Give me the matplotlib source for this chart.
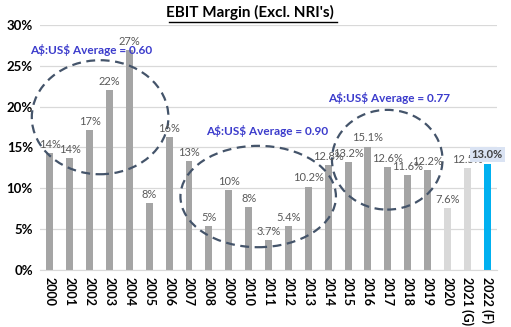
import matplotlib.pyplot as plt
from matplotlib.patches import Ellipse

years = ['2000', '2001', '2002', '2003', '2004', '2005', '2006', '2007', '2008',
         '2009', '2010', '2011', '2012', '2013', '2014', '2015', '2016', '2017',
         '2018', '2019', '2020', '2021 (G)', '2022 (F)']
margin = [14.3, 13.7, 17.1, 22.0, 26.9, 8.2, 16.3, 13.3, 5.4, 9.8, 7.7, 3.7, 5.4,
          10.2, 12.8, 13.2, 15.1, 12.6, 11.6, 12.2, 7.6, 12.5, 13.0]
labels = ['14%', '14%', '17%', '22%', '27%', '8%', '16%', '13%', '5%', '10%', '8%',
          '3.7%', '5.4%', '10.2%', '12.8%', '13.2%', '15.1%', '12.6%', '11.6%',
          '12.2%', '7.6%', '12.5%', '13.0%']
fx_notes = [r'A\$:US\$ Average = 0.60', r'A\$:US\$ Average = 0.90',
            r'A\$:US\$ Average = 0.77']

colors = ['#a5a5a5'] * 20 + ['#d9d9d9', '#d9d9d9', '#00b0f0']

plt.rcParams['font.family'] = ['Lato', 'DejaVu Sans']

fig = plt.figure(figsize=(5.11, 3.27), dpi=100)
ax = fig.add_axes([0.078, 0.174, 0.895, 0.75])

x = list(range(len(years)))
ax.bar(x, margin, width=0.35, color=colors, zorder=2)

for i, v in enumerate(margin):
    if i == len(margin) - 1:
        ax.text(i, v + 0.5, labels[i], ha='center', va='bottom', fontsize=8,
                color='#404040', fontweight='bold',
                bbox=dict(facecolor='#dae3f3', edgecolor='none', pad=1.5), zorder=4)
    else:
        ax.text(i, v + 0.4, labels[i], ha='center', va='bottom', fontsize=8,
                color='#595959', zorder=4)

ax.set_xlim(-0.5, 22.5)
ax.set_ylim(0, 30)
ax.set_yticks([0, 5, 10, 15, 20, 25, 30])
ax.set_yticklabels(['0%', '5%', '10%', '15%', '20%', '25%', '30%'],
                   fontsize=9.5, fontweight='bold')
ax.set_xticks(x)
ax.set_xticklabels(years, rotation=270, fontsize=9, fontweight='bold')
ax.tick_params(length=0, pad=5)
ax.grid(axis='y', color='#d9d9d9', linewidth=0.9, zorder=0)
for s in ['left', 'right', 'top']:
    ax.spines[s].set_visible(False)
ax.spines['bottom'].set_color('#d9d9d9')

# dashed rings round the exchange-rate periods
rings = [(2.53, 18.7, 6.87, 13.95), (10.48, 9.0, 7.82, 12.4), (16.97, 13.5, 5.56, 12.2)]
for cx, cy, w, h in rings:
    ax.add_patch(Ellipse((cx, cy), w, h, fill=False, edgecolor='#44546a',
                         linewidth=1.6, linestyle=(0, (4, 2.5)), zorder=3,
                         clip_on=False))

ax.text(-1.0, 26.9, fx_notes[0], fontsize=8.5, fontweight='bold', color='#3c3ccc',
        va='center', zorder=5)
ax.text(7.85, 17.0, fx_notes[1], fontsize=8.5, fontweight='bold', color='#3c3ccc',
        va='center', zorder=5)
ax.text(14.0, 21.0, fx_notes[2], fontsize=8.5, fontweight='bold', color='#3c3ccc',
        va='center', zorder=5)

fig.text(0.49, 0.963, "EBIT Margin (Excl. NRI's)", ha='center', va='center',
         fontsize=11, fontweight='bold')
fig.add_artist(plt.Line2D([0.33, 0.66], [0.932, 0.932], color='black', linewidth=1))

fig.savefig('out.png', dpi=100)
